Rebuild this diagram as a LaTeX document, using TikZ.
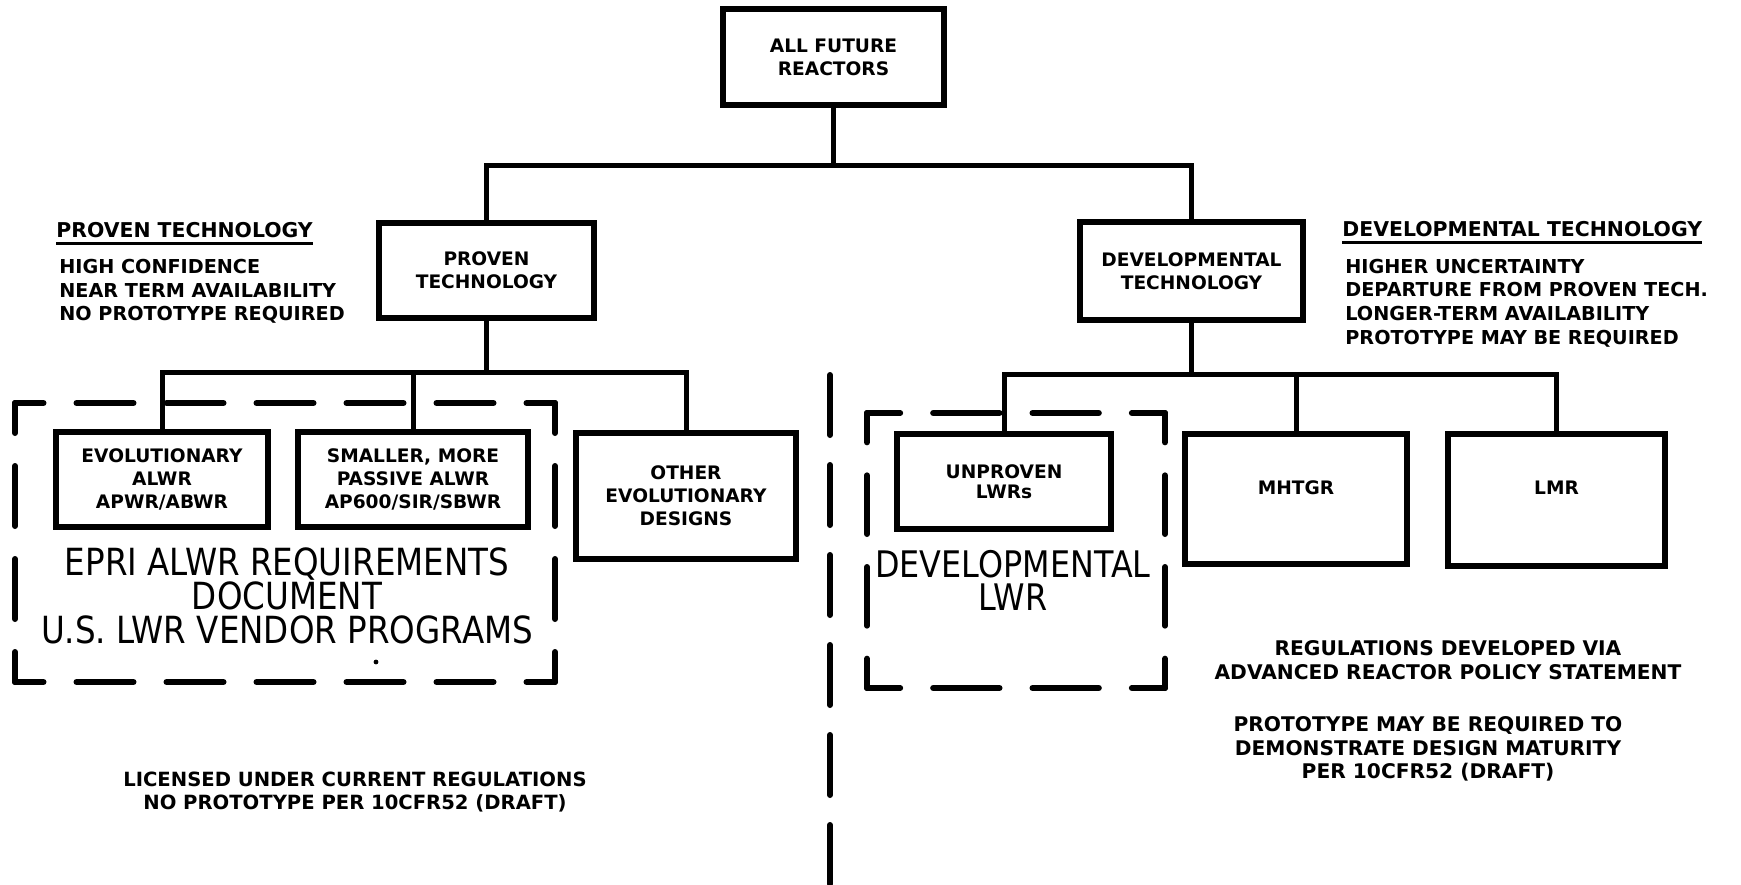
\documentclass[tikz,border=0pt]{standalone}
\usepackage{fontspec}
\newfontfamily\djv{DejaVu Sans}
\newfontfamily\djvn{DejaVu Sans}[FakeStretch=0.87]
\usetikzlibrary{calc}
\newcommand{\labfont}{\djv\bfseries\fontsize{9.3}{11.5}\selectfont}
\newcommand{\notefont}{\djv\bfseries\fontsize{9.6}{11.75}\selectfont}
\newcommand{\titfont}{\djv\bfseries\fontsize{10.2}{12}\selectfont}
\newcommand{\bigfont}{\djvn\fontsize{18.7}{17}\selectfont}
\newcommand{\grpedge}[3]{%
  \pgfmathsetmacro{\grpD}{#3*0.5-16.5}%
  \pgfmathsetmacro{\grpH}{\grpD/2}%
  \draw[grpline, dash pattern=on \grpD pt off 16.5pt, dash phase=\grpH pt] #1 -- #2;%
}
\newcommand{\grpframe}[6]{%
  \grpedge{(#1,#2)}{(#3,#2)}{(#3-#1)/#5}%
  \grpedge{(#3,#2)}{(#3,#4)}{(#4-#2)/#6}%
  \grpedge{(#3,#4)}{(#1,#4)}{(#3-#1)/#5}%
  \grpedge{(#1,#4)}{(#1,#2)}{(#4-#2)/#6}%
}
\tikzset{
  box/.style={draw, line width=2.75pt, rectangle, inner sep=0pt, font=\labfont, align=center},
  lab/.style={inner sep=0pt, font=\labfont, align=center},
  conn/.style={line width=2.5pt},
  grpline/.style={line width=3pt, line cap=round},
  note/.style={inner sep=0pt, font=\notefont, align=left},
  ntitle/.style={inner sep=0pt, font=\titfont},
  uline/.style={line width=1.6pt},
  big/.style={inner sep=0pt, font=\bigfont, align=center},
}
\begin{document}
\begin{tikzpicture}[x=0.5pt, y=-0.5pt]
\path[fill=white] (0,0) rectangle (1741,884);
\useasboundingbox (0,0) rectangle (1741,884);

% boxes
\node[box, minimum width=110.5pt, minimum height=48pt] (top) at (833.5,57) {ALL FUTURE\\REACTORS};
\node[box, minimum width=107.5pt, minimum height=47.5pt] (proven) at (486.5,270.5) {PROVEN\\TECHNOLOGY};
\node[box, minimum width=111.5pt, minimum height=49pt] (dev) at (1191.5,271) {DEVELOPMENTAL\\TECHNOLOGY};
\node[box, minimum width=106pt, minimum height=47.5pt] (evol) at (162,479.5) {EVOLUTIONARY\\ALWR\\APWR/ABWR};
\node[box, minimum width=115pt, minimum height=47.5pt] (smaller) at (413,479.5) {SMALLER, MORE\\PASSIVE ALWR\\AP600/SIR/SBWR};
\node[box, minimum width=110pt, minimum height=63pt] (other) at (686,496) {OTHER\\EVOLUTIONARY\\DESIGNS};
\node[box, minimum width=107pt, minimum height=47.5pt, font=\djv\bfseries\fontsize{9.3}{10}\selectfont] (unproven) at (1004,481.5) {UNPROVEN\\LWRs};
\node[box, minimum width=111pt, minimum height=65pt] (mhtgr) at (1296,499) {};
\node[lab] (mhtgrtxt) at (1296,488) {MHTGR};
\node[box, minimum width=108.5pt, minimum height=66pt] (lmr) at (1556.5,500) {};
\node[lab] (lmrtxt) at (1556.5,488) {LMR};

% connectors
\coordinate (j1) at (833.5,165);
\coordinate (j2) at (486.5,372);
\coordinate (j3) at (1191.5,374);
\draw[conn] (top.south) -- (j1);
\draw[conn] (proven.north) |- (j1) -| (dev.north);
\draw[conn] (proven.south) -- (j2);
\draw[conn] (evol.north) |- (j2) -| (other.north);
\draw[conn] (smaller.north) -- (smaller.north |- j2);
\draw[conn] (dev.south) -- (j3);
\draw[conn] (unproven.north) |- (j3) -| (lmr.north);
\draw[conn] (mhtgr.north) -- (mhtgr.north |- j3);

% dashed group frames
\grpframe{15}{403}{555}{682}{6}{3}
\grpframe{867}{413}{1165}{688}{3}{3}
\node[big] (epri) at (287,596) {EPRI ALWR REQUIREMENTS\\DOCUMENT\\U.S. LWR VENDOR PROGRAMS};
\node[big, font=\djvn\fontsize{18.3}{16.5}\selectfont] (devlwr) at (1013,580.5) {DEVELOPMENTAL\\LWR};
\fill (376,662) circle (1.2pt);

% divider
\coordinate (dv1) at (830,375);
\coordinate (dv2) at (830,884);
\draw[grpline, dash pattern=on 30pt off 15pt] (dv1) -- (dv2);

% side notes
\node[ntitle, anchor=west] (ptitle) at (56,230) {PROVEN TECHNOLOGY};
\draw[uline] ([yshift=-2.8pt]ptitle.south west) -- ([yshift=-2.8pt]ptitle.south east);
\node[note, anchor=west] (pnotes) at (59,291.5) {HIGH CONFIDENCE\\NEAR TERM AVAILABILITY\\NO PROTOTYPE REQUIRED};
\node[ntitle, anchor=west] (dtitle) at (1342,229) {DEVELOPMENTAL TECHNOLOGY};
\draw[uline] ([yshift=-2.8pt]dtitle.south west) -- ([yshift=-2.8pt]dtitle.south east);
\node[note, anchor=west, font=\djv\bfseries\fontsize{9.6}{11.8}\selectfont] (dnotes) at (1345,303) {HIGHER UNCERTAINTY\\DEPARTURE FROM PROVEN TECH.\\LONGER-TERM AVAILABILITY\\PROTOTYPE MAY BE REQUIRED};

% bottom notes
\node[note, align=center, font=\djv\bfseries\fontsize{9.8}{11.6}\selectfont] (lic) at (355,792) {LICENSED UNDER CURRENT REGULATIONS\\NO PROTOTYPE PER 10CFR52 (DRAFT)};
\node[note, align=center, font=\djv\bfseries\fontsize{10.1}{12}\selectfont] (regs) at (1448,660) {REGULATIONS DEVELOPED VIA\\ADVANCED REACTOR POLICY STATEMENT};
\node[note, align=center, font=\djv\bfseries\fontsize{10.1}{11.6}\selectfont] (proto) at (1428,749) {PROTOTYPE MAY BE REQUIRED TO\\DEMONSTRATE DESIGN MATURITY\\PER 10CFR52 (DRAFT)};
\end{tikzpicture}
\end{document}
